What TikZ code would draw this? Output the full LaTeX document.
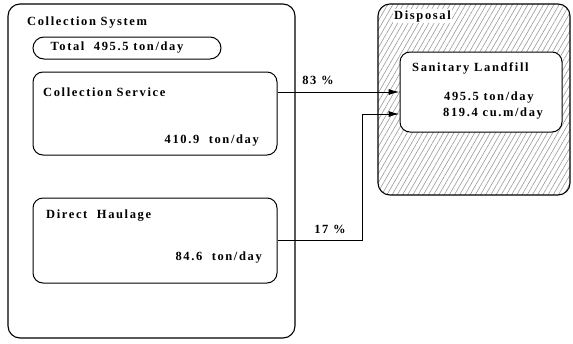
\documentclass[tikz,border=0pt]{standalone}
\usepackage{fontspec}
\setmainfont{Liberation Serif}[LetterSpace=13]
\usetikzlibrary{patterns.meta,arrows.meta}
\begin{document}
\begin{tikzpicture}[x=1pt,y=-1pt,
  font=\fontsize{12.5}{14}\selectfont\bfseries,
  unitbox/.style={draw,line width=1pt,rounded corners=10pt,inner sep=0pt},
  flow/.style={line width=1pt,-{Latex[length=11pt,width=6pt]}},
  txt/.style={inner sep=0pt}]
\useasboundingbox (0,0) rectangle (573,343);

% collection side
\node[draw,line width=1.1pt,rounded corners=12pt,minimum width=287pt,minimum height=334pt,inner sep=0pt] (sys) at (151.5,171) {};
\node[txt,anchor=west] (systitle) at (27,23) {Collection System};
\node[draw,line width=1pt,rounded corners=11pt,minimum width=188pt,minimum height=22pt,inner sep=0pt] (total) at (127,48) {};
\node[txt] (totaltxt) at (117,48) {Total\ \ 495.5 ton/day};

\node[unitbox,minimum width=244pt,minimum height=83pt] (cs) at (155,113.5) {};
\node[txt,anchor=west] (cst) at (43,92) {Collection Service};
\node[txt,anchor=east] (csv) at (259,141) {410.9\ \ ton/day};

\node[unitbox,minimum width=244pt,minimum height=85pt] (dh) at (155,240.5) {};
\node[txt,anchor=west] (dht) at (46,216) {Direct\ \ Haulage};
\node[txt,anchor=east] (dhv) at (262,258) {84.6\ \ ton/day};

% disposal side
\node[draw,line width=1.1pt,rounded corners=12pt,minimum width=192pt,minimum height=191pt,inner sep=0pt,
      pattern={Lines[angle=60,distance=4.5pt,line width=0.6pt]},pattern color=black!40] (disp) at (474,99.5) {};
\node[txt,anchor=west,fill=white,inner sep=1pt] (dispt) at (393,16) {Disposal};
\node[unitbox,fill=white,minimum width=162pt,minimum height=80pt] (lf) at (481,92) {};
\node[txt,anchor=west] (lft) at (412,68) {Sanitary Landfill};
\node[txt,anchor=west] (lfv1) at (444,98) {495.5 ton/day};
\node[txt,anchor=west] (lfv2) at (443,114) {819.4 cu.m/day};

% flows
\coordinate (bend) at (362,114);
\draw[flow] (cs.east |- lf.west) -- (lf.west);
\draw[flow] (dh.east) -| (bend) -- (bend -| lf.west);
\node[txt] (p83) at (318,80) {83 \%};
\node[txt] (p17) at (330,229) {17 \%};
\end{tikzpicture}
\end{document}
